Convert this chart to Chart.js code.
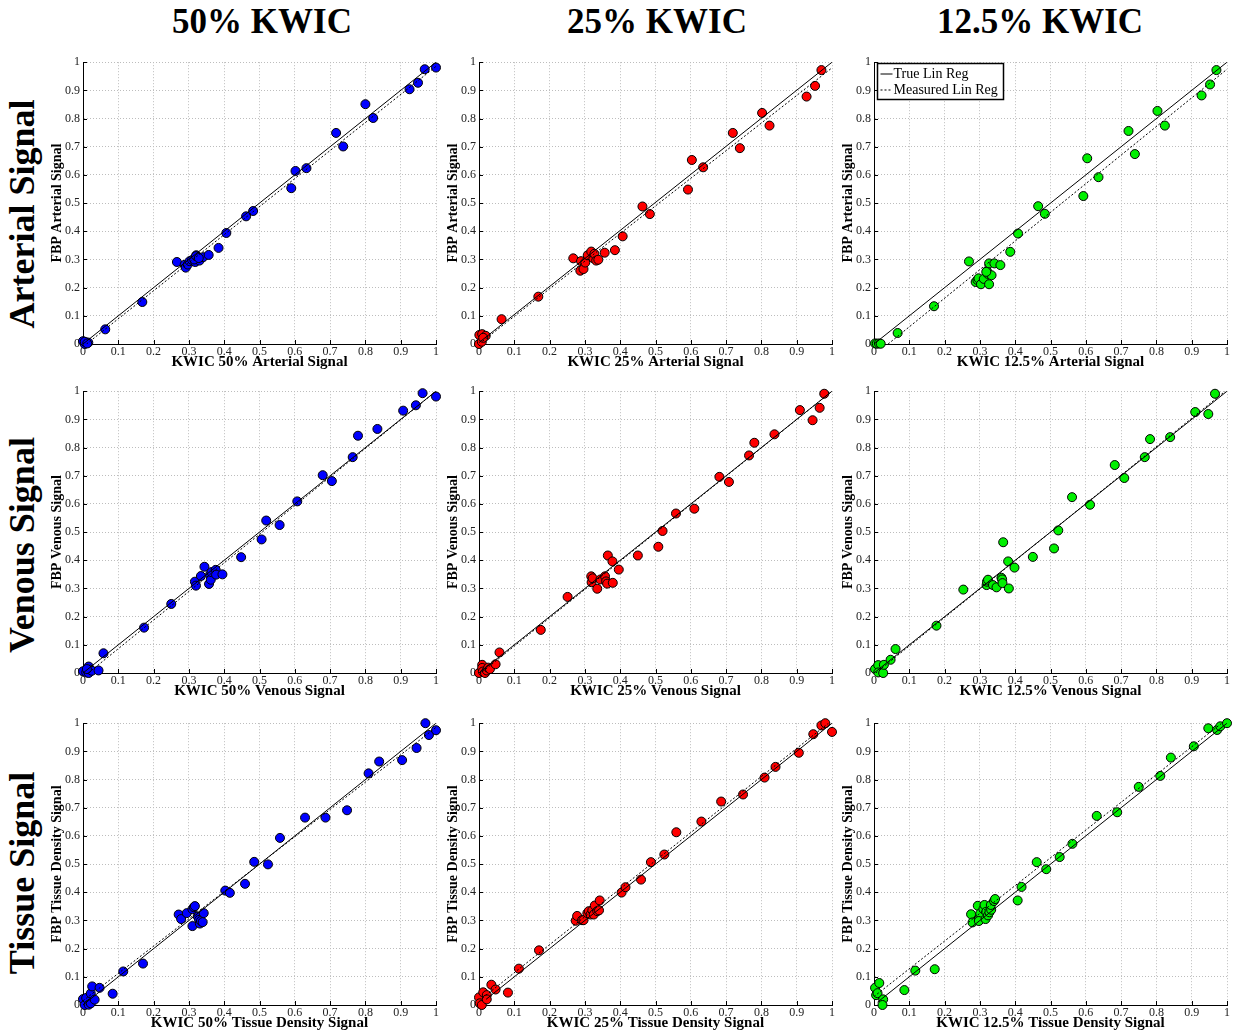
<!DOCTYPE html>
<html>
<head>
<meta charset="utf-8">
<script src="https://cdn.jsdelivr.net/npm/chart.js@4/dist/chart.umd.min.js"></script>
<style>
  html, body { margin: 0; padding: 0; background: #fff; }
  body { width: 1233px; height: 1036px; position: relative; overflow: hidden;
         font-family: 'Liberation Serif', 'Times New Roman', serif; color: #000; }
  .col-head { position: absolute; top: 0; font-weight: bold; font-size: 35px; line-height: 44px;
              transform: translateX(-50%); white-space: nowrap; }
  .row-head { position: absolute; font-weight: bold; font-size: 36px; line-height: 40px;
              white-space: nowrap; transform: translate(-50%, -50%) rotate(-90deg); }
  canvas { position: absolute; }
</style>
</head>
<body>
<div class="col-head" style="left:262px">50% KWIC</div>
<div class="col-head" style="left:657px">25% KWIC</div>
<div class="col-head" style="left:1040px">12.5% KWIC</div>
<div class="row-head" style="left:22px; top:214px">Arterial Signal</div>
<div class="row-head" style="left:22px; top:545px">Venous Signal</div>
<div class="row-head" style="left:22px; top:873px">Tissue Signal</div>

<script>
// ---- axis ticks ----
const tickValues = [0, 0.1, 0.2, 0.3, 0.4, 0.5, 0.6, 0.7, 0.8, 0.9, 1];
const tickLabels = ['0', '0.1', '0.2', '0.3', '0.4', '0.5', '0.6', '0.7', '0.8', '0.9', '1'];
const legendLabels = ['True Lin Reg', 'Measured Lin Reg'];

// ---- Arterial signal ----
const art50X = [0, 0.005, 0.01, 0.015, 0.005, 0.012, 0.063, 0.168, 0.266, 0.288, 0.291, 0.297, 0.302, 0.309, 0.318, 0.321, 0.325, 0.33, 0.34, 0.356, 0.384, 0.406, 0.462, 0.482, 0.59, 0.602, 0.633, 0.717, 0.737, 0.8, 0.822, 0.925, 0.949, 0.968, 1.0, 0.315, 0.32, 0.328];
const art50Y = [0.01, 0, 0.005, 0.005, 0.008, 0.002, 0.052, 0.149, 0.291, 0.281, 0.271, 0.282, 0.294, 0.298, 0.291, 0.315, 0.309, 0.296, 0.308, 0.316, 0.341, 0.394, 0.453, 0.472, 0.553, 0.614, 0.624, 0.749, 0.701, 0.851, 0.802, 0.904, 0.927, 0.975, 0.981, 0.3, 0.312, 0.305];
const art50True = [[0, 0], [1, 1]];
const art50Meas = [[0.01, 0], [1, 0.985]];

const art25X = [0, 0.001, 0.008, 0.009, 0.019, 0.012, 0.064, 0.168, 0.267, 0.287, 0.289, 0.296, 0.301, 0.308, 0.318, 0.324, 0.327, 0.332, 0.338, 0.356, 0.385, 0.407, 0.463, 0.484, 0.592, 0.603, 0.635, 0.719, 0.739, 0.802, 0.823, 0.928, 0.952, 0.970];
const art25Y = [0, 0.032, 0.008, 0.035, 0.029, 0.022, 0.088, 0.168, 0.304, 0.26, 0.294, 0.266, 0.289, 0.315, 0.328, 0.304, 0.32, 0.296, 0.299, 0.324, 0.333, 0.382, 0.488, 0.461, 0.548, 0.653, 0.627, 0.749, 0.695, 0.82, 0.775, 0.878, 0.916, 0.972];
const art25True = [[0, 0.005], [1, 1]];
const art25Meas = [[0.01, 0.01], [1, 0.98]];

const art12X = [0.003, 0.008, 0.014, 0.019, 0.067, 0.17, 0.269, 0.288, 0.293, 0.296, 0.303, 0.311, 0.32, 0.322, 0.326, 0.326, 0.333, 0.341, 0.358, 0.386, 0.408, 0.465, 0.484, 0.593, 0.604, 0.636, 0.721, 0.739, 0.803, 0.824, 0.928, 0.952, 0.97, 0.318];
const art12Y = [0.002, 0.001, 0.002, 0.001, 0.039, 0.134, 0.293, 0.22, 0.227, 0.233, 0.212, 0.231, 0.259, 0.249, 0.286, 0.212, 0.244, 0.286, 0.28, 0.327, 0.392, 0.489, 0.462, 0.525, 0.659, 0.592, 0.756, 0.674, 0.827, 0.775, 0.882, 0.921, 0.972, 0.256];
const art12True = [[0, 0], [1, 1]];
const art12Meas = [[0.04, 0], [1, 0.975]];

// ---- Venous signal ----
const ven50X = [0, 0.009, 0.016, 0.016, 0.021, 0.025, 0.011, 0.044, 0.058, 0.173, 0.25, 0.317, 0.32, 0.334, 0.344, 0.357, 0.36, 0.362, 0.364, 0.376, 0.377, 0.395, 0.448, 0.506, 0.519, 0.557, 0.607, 0.679, 0.705, 0.764, 0.779, 0.834, 0.907, 0.943, 0.962, 1.0];
const ven50Y = [0.006, 0.002, 0.023, 0, 0.012, 0.008, 0.014, 0.009, 0.07, 0.161, 0.245, 0.324, 0.31, 0.344, 0.377, 0.316, 0.349, 0.331, 0.358, 0.366, 0.349, 0.35, 0.411, 0.474, 0.541, 0.525, 0.609, 0.702, 0.681, 0.766, 0.842, 0.866, 0.931, 0.95, 0.993, 0.981];
const ven50True = [[0, 0], [1, 1]];
const ven50Meas = [[0.015, 0], [1, 1]];

const ven25X = [0, 0.009, 0.009, 0.011, 0.017, 0.022, 0.026, 0.031, 0.047, 0.058, 0.175, 0.251, 0.318, 0.319, 0.322, 0.335, 0.344, 0.357, 0.36, 0.363, 0.365, 0.378, 0.379, 0.396, 0.45, 0.508, 0.52, 0.558, 0.61, 0.681, 0.708, 0.765, 0.78, 0.837, 0.909, 0.945, 0.965, 0.978];
const ven25Y = [0, 0.029, 0.018, 0.005, 0, 0.009, 0.019, 0.014, 0.031, 0.073, 0.153, 0.27, 0.343, 0.322, 0.336, 0.299, 0.332, 0.343, 0.325, 0.317, 0.417, 0.396, 0.32, 0.367, 0.417, 0.448, 0.504, 0.566, 0.583, 0.696, 0.678, 0.772, 0.817, 0.847, 0.933, 0.897, 0.941, 0.991];
const ven25True = [[0, 0], [1, 1]];
const ven25Meas = [[0.01, 0.005], [1, 1]];

const ven12X = [0.003, 0.012, 0.012, 0.026, 0.028, 0.047, 0.061, 0.177, 0.253, 0.319, 0.32, 0.323, 0.337, 0.347, 0.361, 0.363, 0.364, 0.366, 0.38, 0.382, 0.398, 0.45, 0.51, 0.522, 0.561, 0.612, 0.682, 0.709, 0.767, 0.782, 0.839, 0.91, 0.947, 0.966];
const ven12Y = [0.014, 0.028, 0.002, 0, 0.029, 0.047, 0.085, 0.168, 0.296, 0.312, 0.324, 0.331, 0.312, 0.304, 0.338, 0.332, 0.319, 0.464, 0.396, 0.3, 0.374, 0.412, 0.442, 0.506, 0.624, 0.597, 0.738, 0.692, 0.766, 0.83, 0.837, 0.926, 0.919, 0.991];
const ven12True = [[0, 0], [1, 1]];
const ven12Meas = [[0.005, 0], [0.995, 1]];

// ---- Tissue density signal ----
const tis50X = [0, 0.005, 0.009, 0.016, 0.022, 0.022, 0.026, 0.033, 0.047, 0.084, 0.114, 0.17, 0.271, 0.278, 0.294, 0.31, 0.31, 0.314, 0.317, 0.325, 0.329, 0.331, 0.334, 0.339, 0.342, 0.403, 0.416, 0.459, 0.485, 0.524, 0.558, 0.629, 0.687, 0.748, 0.809, 0.839, 0.904, 0.945, 0.97, 0.98, 1.0];
const tis50Y = [0.021, 0, 0.025, 0.001, 0.006, 0.041, 0.066, 0.019, 0.061, 0.04, 0.119, 0.147, 0.321, 0.305, 0.326, 0.28, 0.34, 0.347, 0.351, 0.314, 0.302, 0.289, 0.298, 0.294, 0.326, 0.406, 0.398, 0.43, 0.508, 0.499, 0.593, 0.665, 0.665, 0.691, 0.822, 0.864, 0.869, 0.912, 1.0, 0.958, 0.975];
const tis50True = [[0, 0], [1, 1]];
const tis50Meas = [[0, 0.015], [1, 0.985]];

const tis25X = [0, 0.002, 0.008, 0.012, 0.022, 0.022, 0.035, 0.047, 0.082, 0.113, 0.17, 0.274, 0.278, 0.292, 0.296, 0.307, 0.311, 0.316, 0.321, 0.325, 0.328, 0.335, 0.34, 0.342, 0.404, 0.415, 0.459, 0.487, 0.525, 0.559, 0.63, 0.686, 0.748, 0.809, 0.84, 0.906, 0.947, 0.97, 0.981, 1.0];
const tis25Y = [0.027, 0.006, 0, 0.045, 0.035, 0.02, 0.072, 0.055, 0.044, 0.129, 0.194, 0.299, 0.316, 0.301, 0.301, 0.326, 0.333, 0.321, 0.336, 0.321, 0.353, 0.333, 0.336, 0.371, 0.399, 0.418, 0.445, 0.507, 0.534, 0.613, 0.651, 0.722, 0.747, 0.807, 0.845, 0.895, 0.961, 0.992, 1.0, 0.969];
const tis25True = [[0.02, 0.02], [1, 1]];
const tis25Meas = [[0.01, 0.025], [0.99, 1]];

const tis12X = [0.003, 0.006, 0.01, 0.015, 0.026, 0.024, 0.086, 0.117, 0.172, 0.275, 0.279, 0.294, 0.297, 0.301, 0.297, 0.31, 0.313, 0.316, 0.318, 0.323, 0.327, 0.332, 0.331, 0.34, 0.343, 0.407, 0.418, 0.461, 0.488, 0.526, 0.562, 0.631, 0.689, 0.75, 0.811, 0.841, 0.906, 0.947, 0.972, 0.981, 1.0];
const tis12Y = [0.061, 0.035, 0.042, 0.078, 0.02, 0, 0.053, 0.122, 0.127, 0.322, 0.293, 0.352, 0.307, 0.325, 0.298, 0.34, 0.355, 0.305, 0.331, 0.318, 0.329, 0.338, 0.355, 0.369, 0.376, 0.371, 0.419, 0.507, 0.482, 0.525, 0.572, 0.671, 0.684, 0.774, 0.813, 0.878, 0.918, 0.982, 0.976, 0.989, 1.0];
const tis12True = [[0.01, 0.01], [1, 1]];
const tis12Meas = [[0, 0.03], [0.985, 1]];

// ---- panel layout ----
const SERIF = "'Liberation Serif', 'Times New Roman', serif";
const colLeft = [83, 479, 874];
const rowTop = [60, 389, 721];
const plotW = 353, plotH = 284;
const yAxisW = 34, xAxisH = 27, padTop = 8, padRight = 6;
const colColors = ['#0000ff', '#ff0000', '#00f000'];

const panels = [
  { r: 0, c: 0, x: art50X, y: art50Y, t: art50True, m: art50Meas, xt: 'KWIC 50% Arterial Signal', yt: 'FBP Arterial Signal' },
  { r: 0, c: 1, x: art25X, y: art25Y, t: art25True, m: art25Meas, xt: 'KWIC 25% Arterial Signal', yt: 'FBP Arterial Signal' },
  { r: 0, c: 2, x: art12X, y: art12Y, t: art12True, m: art12Meas, xt: 'KWIC 12.5% Arterial Signal', yt: 'FBP Arterial Signal', legend: true },
  { r: 1, c: 0, x: ven50X, y: ven50Y, t: ven50True, m: ven50Meas, xt: 'KWIC 50% Venous Signal', yt: 'FBP Venous Signal' },
  { r: 1, c: 1, x: ven25X, y: ven25Y, t: ven25True, m: ven25Meas, xt: 'KWIC 25% Venous Signal', yt: 'FBP Venous Signal' },
  { r: 1, c: 2, x: ven12X, y: ven12Y, t: ven12True, m: ven12Meas, xt: 'KWIC 12.5% Venous Signal', yt: 'FBP Venous Signal' },
  { r: 2, c: 0, x: tis50X, y: tis50Y, t: tis50True, m: tis50Meas, xt: 'KWIC 50% Tissue Density Signal', yt: 'FBP Tissue Density Signal' },
  { r: 2, c: 1, x: tis25X, y: tis25Y, t: tis25True, m: tis25Meas, xt: 'KWIC 25% Tissue Density Signal', yt: 'FBP Tissue Density Signal' },
  { r: 2, c: 2, x: tis12X, y: tis12Y, t: tis12True, m: tis12Meas, xt: 'KWIC 12.5% Tissue Density Signal', yt: 'FBP Tissue Density Signal' }
];

const labelFor = (v) => {
  const i = tickValues.findIndex(t => Math.abs(t - v) < 1e-9);
  return i >= 0 ? tickLabels[i] : '';
};

// short tick marks pointing into the plot along the left and bottom axes
const innerTicks = {
  id: 'innerTicks',
  beforeDatasetsDraw(chart) {
    const { ctx, chartArea: a, scales: { x, y } } = chart;
    ctx.save();
    ctx.strokeStyle = '#000';
    ctx.lineWidth = 1;
    ctx.beginPath();
    tickValues.forEach(v => {
      const px = Math.round(x.getPixelForValue(v)) + 0.5;
      ctx.moveTo(px, a.bottom);
      ctx.lineTo(px, a.bottom - 4);
      const py = Math.round(y.getPixelForValue(v)) + 0.5;
      ctx.moveTo(a.left, py);
      ctx.lineTo(a.left + 4, py);
    });
    ctx.stroke();
    ctx.restore();
  }
};

// boxed key for the two regression lines
const regLegend = {
  id: 'regLegend',
  afterDraw(chart) {
    const { ctx, chartArea: a } = chart;
    const bx = Math.round(a.left) + 3.5, by = Math.round(a.top) + 1.5, bw = 126, bh = 36;
    ctx.save();
    ctx.fillStyle = '#fff';
    ctx.fillRect(bx, by, bw, bh);
    ctx.strokeStyle = '#000';
    ctx.lineWidth = 1.5;
    ctx.strokeRect(bx, by, bw, bh);
    ctx.lineWidth = 1;
    ctx.beginPath();
    ctx.moveTo(bx + 3, by + 10.5);
    ctx.lineTo(bx + 15, by + 10.5);
    ctx.stroke();
    ctx.setLineDash([2, 2]);
    ctx.beginPath();
    ctx.moveTo(bx + 3, by + 26.5);
    ctx.lineTo(bx + 15, by + 26.5);
    ctx.stroke();
    ctx.setLineDash([]);
    ctx.fillStyle = '#000';
    ctx.font = '14px ' + SERIF;
    ctx.textBaseline = 'alphabetic';
    ctx.textAlign = 'left';
    ctx.fillText(legendLabels[0], bx + 16, by + 14);
    ctx.fillText(legendLabels[1], bx + 16, by + 30);
    ctx.restore();
  }
};

function axisOptions(title, isX) {
  return {
    type: 'linear',
    min: 0,
    max: 1,
    ticks: {
      stepSize: 0.1,
      autoSkip: false,
      maxRotation: 0,
      padding: isX ? 1 : 3,
      color: '#222',
      font: { family: SERIF, size: 12 },
      callback: labelFor
    },
    grid: { color: '#bdbdbd', lineWidth: 1, drawTicks: false },
    border: { display: true, color: '#000', width: 1, dash: [1, 2] },
    title: {
      display: true,
      text: title,
      color: '#000',
      font: { family: SERIF, size: isX ? 15 : 14, weight: 'bold' },
      padding: 0
    },
    afterFit(scale) {
      if (isX) scale.height = xAxisH; else scale.width = yAxisW;
    }
  };
}

panels.forEach(p => {
  const cv = document.createElement('canvas');
  const w = yAxisW + plotW + padRight;
  const h = padTop + plotH + xAxisH;
  cv.width = w;
  cv.height = h;
  cv.style.width = w + 'px';
  cv.style.height = h + 'px';
  cv.style.left = (colLeft[p.c] - yAxisW) + 'px';
  cv.style.top = (rowTop[p.r] - padTop) + 'px';
  document.body.appendChild(cv);

  const pts = p.x.map((v, i) => ({ x: v, y: p.y[i] }));
  const toLine = arr => arr.map(q => ({ x: q[0], y: q[1] }));

  new Chart(cv, {
    type: 'scatter',
    data: {
      datasets: [
        { type: 'line', label: legendLabels[0], data: toLine(p.t), borderColor: '#000', borderWidth: 1,
          pointRadius: 0, fill: false, order: 0 },
        { type: 'line', label: legendLabels[1], data: toLine(p.m), borderColor: '#000', borderWidth: 1,
          borderDash: [2, 2], pointRadius: 0, fill: false, order: 0 },
        { label: 'points', data: pts, backgroundColor: colColors[p.c], borderColor: '#000', borderWidth: 1,
          pointRadius: 4.5, pointHoverRadius: 4.5, clip: false, order: 1 }
      ]
    },
    options: {
      responsive: false,
      animation: false,
      devicePixelRatio: 1,
      events: [],
      layout: { padding: { top: padTop, right: padRight, left: 0, bottom: 0 } },
      plugins: { legend: { display: false }, tooltip: { enabled: false } },
      scales: { x: axisOptions(p.xt, true), y: axisOptions(p.yt, false) }
    },
    plugins: p.legend ? [innerTicks, regLegend] : [innerTicks]
  });
});
</script>
</body>
</html>
